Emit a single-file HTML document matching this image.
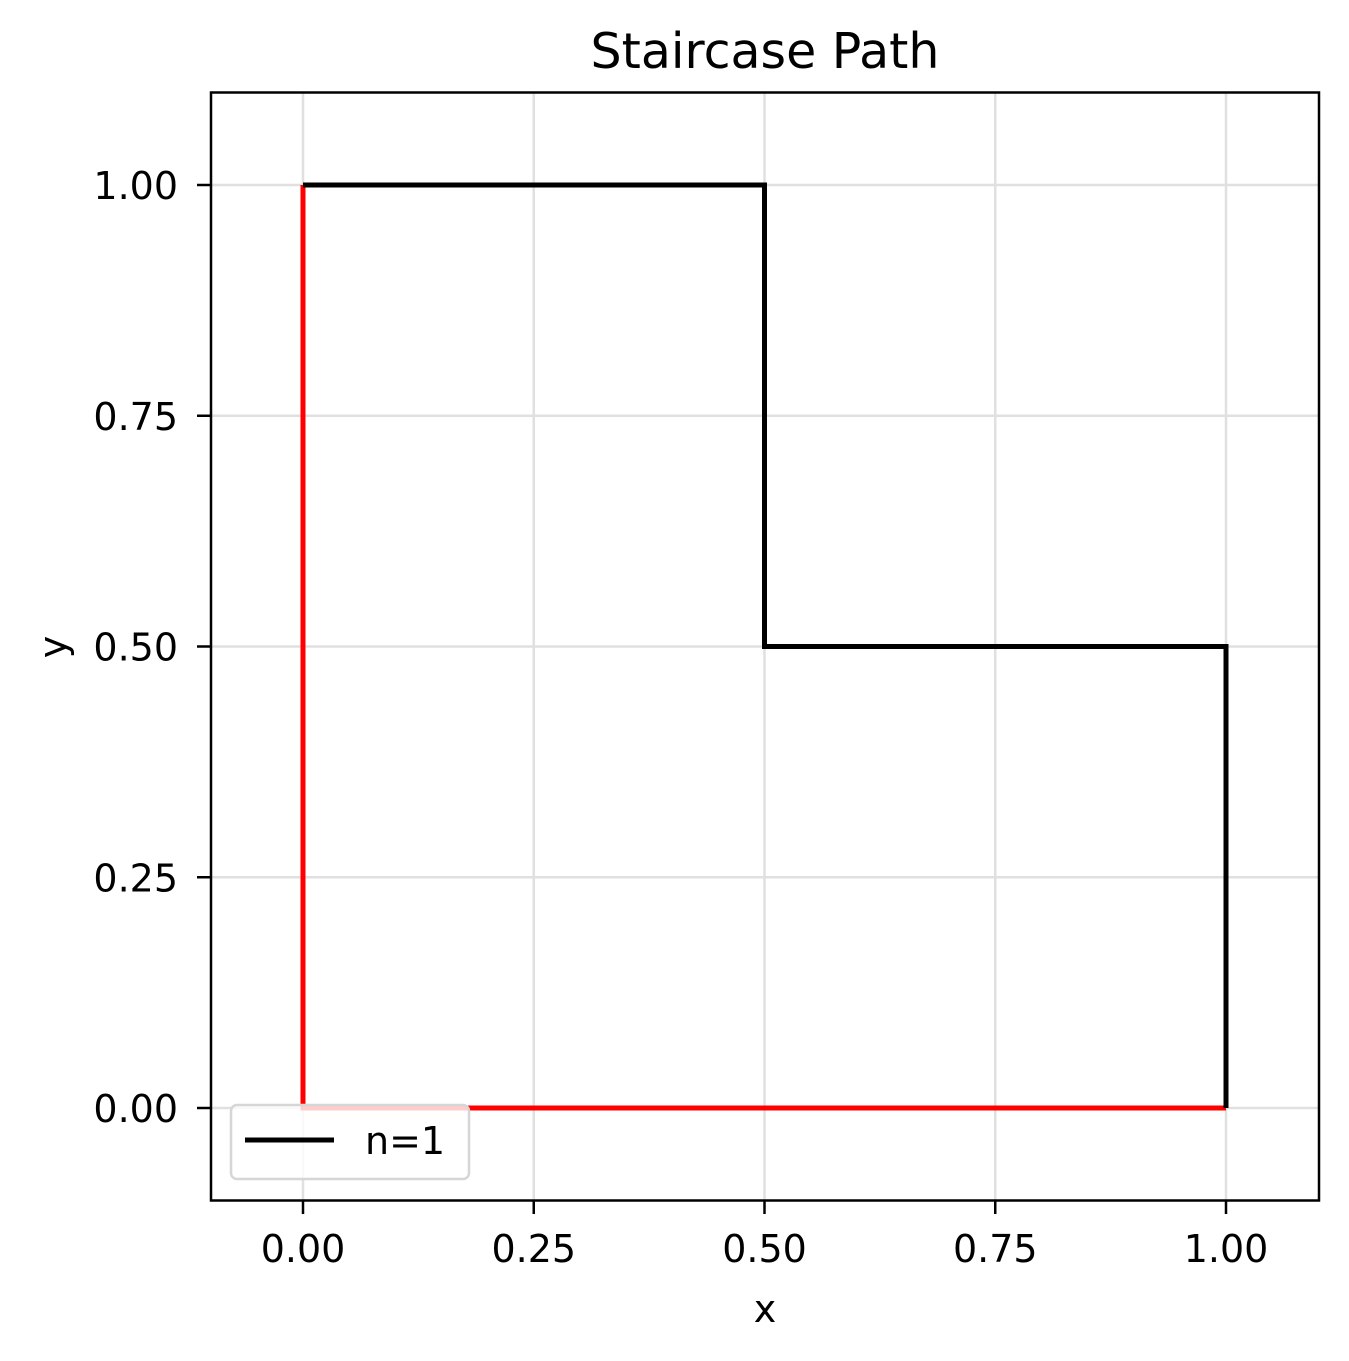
<!DOCTYPE html>
<html><head><meta charset="utf-8"><style>
html,body{margin:0;padding:0;background:#fff}
svg{display:block;font-family:"DejaVu Sans","Liberation Sans",sans-serif}
</style></head><body>
<svg id="chart" width="1349" height="1361">
<rect width="1349" height="1361" fill="#fff"/>
<text x="765" y="68" font-size="49" text-anchor="middle">Staircase Path</text>
<g id="grid"></g>
<g id="series"></g>
<rect x="211" y="92.5" width="1108" height="1108" fill="none" stroke="#000" stroke-width="2.5"/>
<g id="ticks"></g>
<text x="765" y="1322" font-size="38" text-anchor="middle">x</text>
<text x="0" y="0" font-size="38" text-anchor="middle" transform="translate(66,647) rotate(-90)">y</text>
<g>
<rect x="231" y="1105" width="238" height="74" rx="6" fill="#fff" fill-opacity="0.8" stroke="#d6d6d6" stroke-width="2.5"/>
<line x1="245" y1="1140" x2="334" y2="1140" stroke="#000" stroke-width="5"/>
<text x="365" y="1154" font-size="38">n=1</text>
</g>
</svg>
<script>
const xTicks=[0,0.25,0.5,0.75,1];
const yTicks=[0,0.25,0.5,0.75,1];
const tickLabels=["0.00","0.25","0.50","0.75","1.00"];
const stairX=[0,0.5,0.5,1,1];
const stairY=[1,1,0.5,0.5,0];
const baseX=[0,0,1];
const baseY=[1,0,0];
const X=v=>303+v*923, Y=v=>1108-v*923;
const NS="http://www.w3.org/2000/svg";
function mk(t,a,p){const e=document.createElementNS(NS,t);for(const k in a)e.setAttribute(k,a[k]);p.appendChild(e);return e;}
const grid=document.getElementById('grid'),ticks=document.getElementById('ticks'),ser=document.getElementById('series');
xTicks.forEach((v,i)=>{
 const g=mk('line',{x1:X(v),x2:X(v),y1:92.5,y2:1200.5,stroke:'#e0e0e0','stroke-width':2.5},grid);
 
 
 const t=mk('line',{x1:X(v),x2:X(v),y1:1200.5,y2:1214,stroke:'#000','stroke-width':2.5},ticks);
 
 
 const l=mk('text',{x:X(v),y:1262,'font-size':38,'text-anchor':'middle'},ticks);l.textContent=tickLabels[i];
 
 
});
yTicks.forEach((v,i)=>{
 const g=mk('line',{x1:211,x2:1319,y1:Y(v),y2:Y(v),stroke:'#e0e0e0','stroke-width':2.5},grid);
 
 
 const t=mk('line',{x1:197,x2:211,y1:Y(v),y2:Y(v),stroke:'#000','stroke-width':2.5},ticks);
 
 
 const l=mk('text',{x:178,y:Y(v)+14,'font-size':38,'text-anchor':'end'},ticks);l.textContent=tickLabels[i];
 
 
});
const b=mk('polyline',{points:baseX.map((v,i)=>X(v)+','+Y(baseY[i])).join(' '),fill:'none',stroke:'#ff0000','stroke-width':5},ser);


const s=mk('polyline',{points:stairX.map((v,i)=>X(v)+','+Y(stairY[i])).join(' '),fill:'none',stroke:'#000','stroke-width':5},ser);


</script>
</body></html>
